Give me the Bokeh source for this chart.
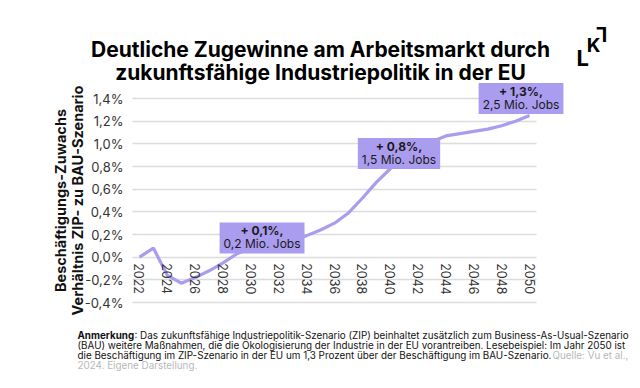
from math import pi
from bokeh.plotting import figure
from bokeh.models import (ColumnDataSource, FixedTicker, CustomJSTickFormatter, Label, Range1d)
from bokeh.embed import file_html
from bokeh.resources import INLINE

years = list(range(2022, 2051))
growth = [0.0, 0.08, -0.16, -0.23, -0.18, -0.12, -0.05, 0.03, 0.08, 0.105,
          0.13, 0.15, 0.19, 0.24, 0.30, 0.39, 0.52, 0.66, 0.78, 0.87,
          0.95, 1.02, 1.07, 1.09, 1.11, 1.13, 1.16, 1.20, 1.25]
y_ticks = [-0.4, -0.2, 0.0, 0.2, 0.4, 0.6, 0.8, 1.0, 1.2, 1.4]
x_ticks = list(range(2022, 2051, 2))

ann_x = [2030.8, 2040.63, 2049.39]
ann_y = [0.17, 0.915, 1.40]
ann_top = ["+ 0,1%,", "+ 0,8%,", "+ 1,3%,"]
ann_bottom = ["0,2 Mio. Jobs", "1,5 Mio. Jobs", "2,5 Mio. Jobs"]

title_lines = ["Deutliche Zugewinne am Arbeitsmarkt durch",
               "zukunftsfähige Industriepolitik in der EU"]
y_label = "Beschäftigungs-Zuwachs\nVerhältnis ZIP- zu BAU-Szenario"
note_bold = "Anmerkung"
note_lines = [
    ": Das zukunftsfähige Industriepolitik-Szenario (ZIP) beinhaltet zusätzlich zum Business-As-Usual-Szenario",
    "(BAU) weitere Maßnahmen, die die Ökologisierung der Industrie in der EU vorantreiben. Lesebeispiel: Im Jahr 2050 ist",
    "die Beschäftigung im ZIP-Szenario in der EU um 1,3 Prozent über der Beschäftigung im BAU-Szenario.",
]
source_lines = ["Quelle: Vu et al.,", "2024. Eigene Darstellung."]

LAV = "#aa9cee"
W, H = 632, 380
# visible plotting area in page pixels; the frame spans the whole canvas so that
# titles/notes/annotations (drawn as frame annotations) are not clipped
PL, PR, PT, PB = 132, 536, 98, 302
X0, X1 = years[0] - 0.5, years[-1] + 0.5
Y0, Y1 = y_ticks[0], y_ticks[-1]
sx = (PR - PL) / (X1 - X0)
sy = (PB - PT) / (Y1 - Y0)

p = figure(width=W, height=H, output_backend="svg", toolbar_location=None,
           x_range=Range1d(X0 - PL / sx, X0 + (W - PL) / sx),
           y_range=Range1d(Y0 - (H - PB) / sy, Y1 + PT / sy),
           min_border=0, min_border_left=0, min_border_right=0,
           min_border_top=0, min_border_bottom=0)
p.outline_line_color = None

src = ColumnDataSource(dict(x=years, y=growth))

# grid lines limited to the plotting area
p.xgrid.grid_line_color = None
gprops = p.ygrid[0].properties()
if "cross_bounds" in gprops:
    p.ygrid.cross_bounds = (X0, X1)
    p.ygrid.grid_line_color = "#dcdcdc"
    p.ygrid.grid_line_width = 1.5
else:
    p.ygrid.grid_line_color = None
    p.segment(x0=[X0] * len(y_ticks), x1=[X1] * len(y_ticks), y0=y_ticks, y1=y_ticks,
              line_color="#dcdcdc", line_width=1.5)

p.line("x", "y", source=src, line_color=LAV, line_width=3.2)

# annotation boxes
for ax, ay, top, bot in zip(ann_x, ann_y, ann_top, ann_bottom):
    p.add_layout(Label(x=ax, y=ay, text=bot, text_align="center", text_baseline="middle",
                       text_font="Inter", text_font_size="12px", text_color="#1a1a1a",
                       background_fill_color=LAV,
                       padding=dict(left=4, right=4, top=14, bottom=2)))
    p.add_layout(Label(x=ax, y=ay, y_offset=7, text=top, text_align="center", text_baseline="middle",
                       text_font="Inter", text_font_style="bold", text_font_size="12px",
                       text_color="#1a1a1a"))

# axes (fixed inside the frame)
p.xaxis.ticker = FixedTicker(ticks=x_ticks)
p.xaxis.formatter = CustomJSTickFormatter(code="return tick.toFixed(0);")
p.xaxis.fixed_location = 0
p.xaxis.major_label_orientation = "vertical"
p.xaxis.axis_line_color = None
p.xaxis.major_tick_line_color = None
p.xaxis.minor_tick_line_color = None
p.xaxis.major_tick_out = 0
p.xaxis.major_tick_in = 0
p.xaxis.major_label_text_font = "Inter"
p.xaxis.major_label_text_font_size = "12.5px"
p.xaxis.major_label_text_color = "#333333"
p.xaxis.major_label_standoff = 6

p.yaxis.ticker = FixedTicker(ticks=y_ticks)
p.yaxis.bounds = (Y0, Y1)
p.yaxis.fixed_location = X0
p.yaxis.formatter = CustomJSTickFormatter(code="return tick.toFixed(1).replace('.', ',') + '%';")
p.yaxis.axis_line_color = None
p.yaxis.major_tick_line_color = None
p.yaxis.minor_tick_line_color = None
p.yaxis.major_tick_out = 0
p.yaxis.major_tick_in = 0
p.yaxis.major_label_text_font = "Inter"
p.yaxis.major_label_text_font_size = "13px"
p.yaxis.major_label_text_color = "#333333"
p.yaxis.major_label_standoff = 9
p.yaxis.axis_label = y_label
p.yaxis.axis_label_text_font = "Inter"
p.yaxis.axis_label_text_font_style = "bold"
p.yaxis.axis_label_text_font_size = "14.5px"
p.yaxis.axis_label_text_line_height = 1.0
p.yaxis.axis_label_text_color = "#111111"
p.yaxis.axis_label_standoff = -4


def scr(px, py, **kw):
    """Label at page pixel (px, py measured from the top)."""
    return Label(x=px, y=H - py, x_units="screen", y_units="screen", **kw)


# title
for i, t in enumerate(title_lines):
    p.add_layout(scr(320, 49 + 23 * i, text=t, text_align="center", text_baseline="middle",
                     text_font="Inter", text_font_style="bold", text_font_size="21px",
                     text_color="#000000"))

# logo
p.add_layout(scr(593, 45, text="K", text_align="center", text_baseline="middle", text_font="Inter",
                 text_font_style="bold", text_font_size="19px", text_color="#000"))
p.add_layout(scr(576, 57.5, text="L", text_align="left", text_baseline="alphabetic", text_font="Inter",
                 text_font_style="bold", text_font_size="22px", text_color="#000"))
p.add_layout(scr(601, 33.5, text="L", text_align="center", text_baseline="middle", text_font="Inter",
                 text_font_style="bold", text_font_size="20px", text_color="#000", angle=pi))

# notes
NX = 77
NF = "9.85px"
p.add_layout(scr(NX, 334, text=note_bold, text_align="left", text_baseline="middle", text_font="Inter",
                 text_font_style="bold", text_font_size=NF, text_color="#111"))
p.add_layout(scr(NX + 57, 334, text=note_lines[0], text_align="left", text_baseline="middle",
                 text_font="Inter", text_font_size=NF, text_color="#111"))
for i in (1, 2):
    p.add_layout(scr(NX, 334 + 10 * i, text=note_lines[i], text_align="left", text_baseline="middle",
                     text_font="Inter", text_font_size=NF, text_color="#111"))
p.add_layout(scr(552, 354, text=source_lines[0], text_align="left", text_baseline="middle",
                 text_font="Inter", text_font_size=NF, text_color="#b8b8b8"))
p.add_layout(scr(NX, 364, text=source_lines[1], text_align="left", text_baseline="middle",
                 text_font="Inter", text_font_size=NF, text_color="#b8b8b8"))

open("out.html", "w").write(file_html(p, INLINE))
